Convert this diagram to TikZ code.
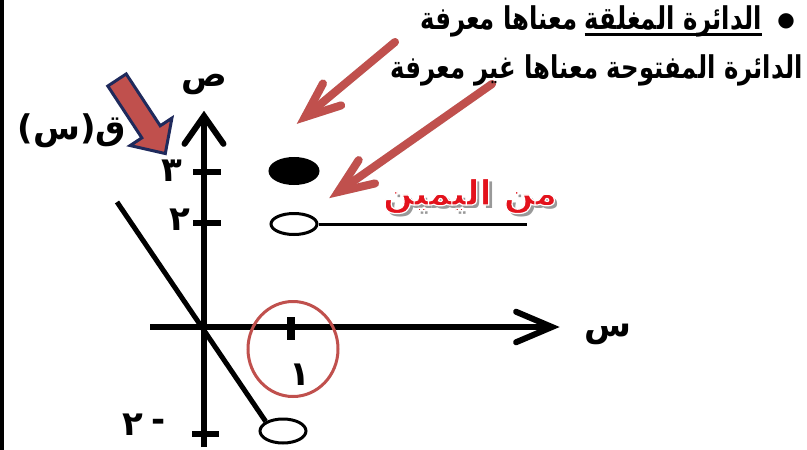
\documentclass[tikz,border=0pt]{standalone}
\usepackage{fontspec}
\usetikzlibrary{arrows.meta,shapes.geometric,calc}
\TeXXeTstate=1
\newfontfamily\arabicfont[Script=Arabic]{DejaVu Sans}
\definecolor{redarrow}{HTML}{C0504D}
\definecolor{navyedge}{HTML}{1F2A5C}
\definecolor{textred}{HTML}{E3121C}
\newcommand{\ar}[1]{{\arabicfont\beginR #1\endR}}
\newcommand{\narrow}[1]{\scalebox{0.87}[1.12]{#1}}
\newcommand{\outlined}[1]{\special{pdf:literal direct 2 Tr 1.2 w 1 1 1 RG}#1\special{pdf:literal direct 0 Tr}}
\begin{document}
\begin{tikzpicture}[x=1pt,y=-1pt,
  axisline/.style={line width=6pt},
  tickline/.style={line width=6pt},
  graphline/.style={line width=5pt},
  barb/.style={line width=6pt,line cap=round},
  redline/.style={line width=8pt,draw=redarrow,line cap=round},
  lab/.style={inner sep=0pt,font=\arabicfont\bfseries\fontsize{34}{38}\selectfont},
  num/.style={inner sep=0pt,font=\arabicfont\bfseries\fontsize{34}{38}\selectfont},
  toptext/.style={inner sep=0pt,font=\arabicfont\bfseries\fontsize{28}{32}\selectfont},
  dot/.style={ellipse,draw,line width=3pt,inner sep=0pt},
  redtext/.style={inner sep=0pt,font=\arabicfont\bfseries\fontsize{35}{40}\selectfont}
]
\useasboundingbox (0,0) rectangle (807,450);
\fill[white] (0,0) rectangle (807,450);
\draw[line width=3pt] (2,0) -- (2,450);

% axes
\coordinate (yb) at (204,447);
\coordinate (yt) at (204,116);
\coordinate (xl) at (150,327);
\coordinate (xr) at (552,327);
\draw[axisline] (yb) -- (yt);
\draw[axisline] (xl) -- (xr);
\draw[barb] ($(yt)!34pt!35:(yb)$) -- (yt) -- ($(yt)!34pt!-35:(yb)$);
\draw[barb] ($(xr)!39pt!23:(xl)$) -- (xr) -- ($(xr)!39pt!-23:(xl)$);

% ticks
\coordinate (t3a) at (193,172); \coordinate (t3b) at (221,172);
\coordinate (t2a) at (193,223); \coordinate (t2b) at (221,223);
\coordinate (tma) at (192,434); \coordinate (tmb) at (219,434);
\coordinate (t1a) at (291,317); \coordinate (t1b) at (291,340);
\draw[tickline] (t3a) -- (t3b);
\draw[tickline] (t2a) -- (t2b);
\draw[tickline] (tma) -- (tmb);
\draw[line width=8pt] (t1a) -- (t1b);

% labels
\node[num] (l3) at (172,171) {\ar{٣}};
\node[num] (l2) at (180,220) {\ar{٢}};
\node[num] (lm2) at (133,425) {\ar{٢}};
\node[num] (lminus) at (159,425) {-};
\node[num] (l1) at (300,375) {\ar{١}};
\node[lab] (ly) at (204,84) {\ar{ص}};
\node[lab] (lx) at (608,334) {\ar{س}};
\node[num] (lf) at (72,131) {\ar{ق(س)}};

% graph
\node[dot,fill=black,minimum width=48pt,minimum height=25pt] (closed) at (294,171) {};
\node[dot,fill=white,minimum width=46pt,minimum height=21pt] (open) at (294,224) {};
\coordinate (rend) at (527,224);
\draw[line width=3pt] (open.east) -- (rend);
\node[dot,fill=white,minimum width=46pt,minimum height=24pt] (open2) at (283,431) {};
\coordinate (gstart) at (117,202);
\draw[graphline] (gstart) -- (open2.north west);

% red circle
\node[ellipse,draw=redarrow,line width=3pt,minimum width=90pt,minimum height=95pt,inner sep=0pt] (ring) at (293,349) {};

% red arrows
\coordinate (a1s) at (395,42);
\coordinate (a1t) at (305,117);
\coordinate (a2s) at (492,84);
\coordinate (a2t) at (338,192);
\foreach \s/\t in {a1s/a1t,a2s/a2t}{
  \draw[redline,draw=black!15,shift={(3,3)}] (\s) -- (\t);
  \draw[redline,draw=black!15,shift={(3,3)}] ($(\t)!38pt!22:(\s)$) -- (\t) -- ($(\t)!38pt!-22:(\s)$);
  \draw[redline] (\s) -- (\t);
  \draw[redline] ($(\t)!38pt!22:(\s)$) -- (\t) -- ($(\t)!38pt!-22:(\s)$);
}

% block arrow
\begin{scope}[shift={(117,80)},rotate=-56.7]
\draw[fill=redarrow,draw=navyedge,line width=3pt,line join=miter]
  (0,11) -- (62,11) -- (62,25) -- (88,0) -- (62,-25) -- (62,-11) -- (0,-11) -- cycle;
\end{scope}

% top texts
\node[toptext,anchor=east] (u1) at (762,21) {\narrow{\ar{الدائرة المغلقة}}};
\node[toptext,anchor=east] (u2) at ([xshift=-7pt]u1.west) {\narrow{\ar{معناها معرفة}}};
\draw[line width=3pt] ([yshift=2pt]u1.south west) -- ([yshift=2pt]u1.south east);
\node[inner sep=0pt,font=\arabicfont\fontsize{20}{22}\selectfont] (bul) at (786,21) {●};
\node[toptext,anchor=east] (t2) at (803,70) {\narrow{\ar{الدائرة المفتوحة معناها غير معرفة}}};

% from the right
\node[redtext,text=black!40] (frs) at (473.5,199.5) {\ar{من اليمين}};
\node[redtext,text=textred] (fr) at (470,196) {\outlined{\ar{من اليمين}}};
\end{tikzpicture}
\end{document}
